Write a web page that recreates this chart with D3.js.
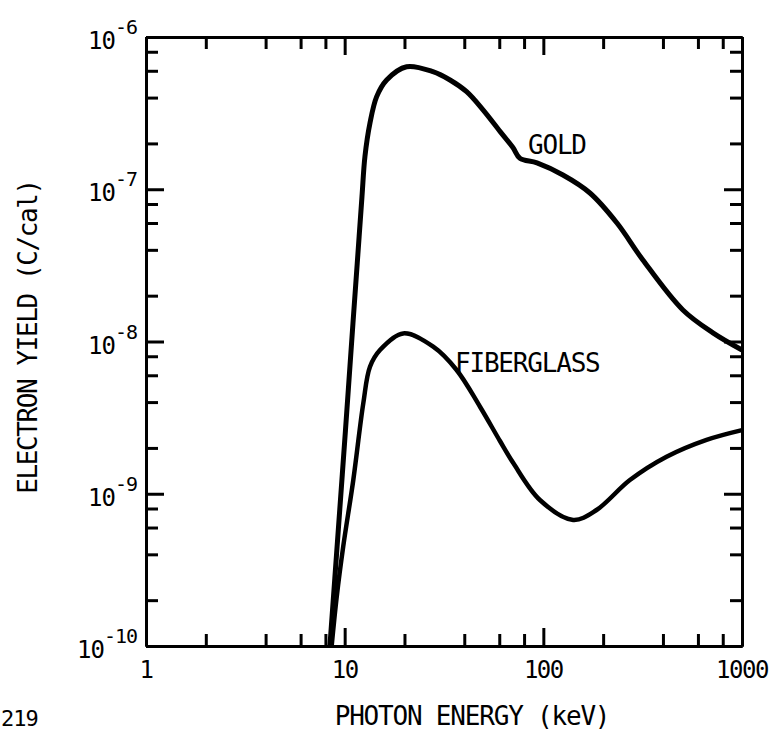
<!DOCTYPE html>
<html>
<head>
<meta charset="utf-8">
<script src="https://cdn.jsdelivr.net/npm/d3@7"></script>
<style>
  body { margin: 0; background: #fff; }
  text { font-family: "DejaVu Sans Mono", "Liberation Mono", monospace; fill: #000; }
</style>
</head>
<body>
<div id="chart"></div>
<script>
// curve readings (photon energy keV, electron yield C/cal)
const goldEnergy = [8.43, 9.29, 10.09, 11.01, 11.57, 12.22, 12.65, 13.41, 14.49, 16.27, 20.5, 27.8, 33.9, 41.1, 49.7, 60.5, 70.3, 76.2, 92.9, 125.5, 171.6, 234.8, 317, 504, 714, 1000];
const goldYield = [1e-10, 5.8e-10, 2.6e-9, 1.32e-8, 3.27e-8, 8.93e-8, 1.64e-7, 2.72e-7, 4.06e-7, 5.22e-7, 6.38e-7, 5.92e-7, 5.22e-7, 4.37e-7, 3.32e-7, 2.4e-7, 1.88e-7, 1.6e-7, 1.49e-7, 1.24e-7, 9.45e-8, 6.0e-8, 3.43e-8, 1.61e-8, 1.14e-8, 8.8e-9];

const fiberEnergy = [8.6, 9.12, 9.83, 11.05, 12.41, 13.41, 15.06, 19.7, 27.9, 36.6, 48.0, 60.5, 70.6, 96.1, 141.3, 185.3, 272.7, 417, 663, 1000];
const fiberYield = [1e-10, 2.11e-10, 4.49e-10, 1.23e-9, 3.93e-9, 6.83e-9, 8.79e-9, 1.13e-8, 9.25e-9, 6.5e-9, 3.73e-9, 2.22e-9, 1.59e-9, 9.1e-10, 6.73e-10, 7.82e-10, 1.23e-9, 1.75e-9, 2.26e-9, 2.62e-9];

const xTicks = [1, 10, 100, 1000];
const xTickLabels = ["1", "10", "100", "1000"];
const yTicks = [1e-6, 1e-7, 1e-8, 1e-9, 1e-10];
const yTickExps = ["-6", "-7", "-8", "-9", "-10"];
const minorSteps = [2, 4, 6, 8];

const width = 770, height = 730;
const margin = { top: 37, right: 28, bottom: 84, left: 146 };
const w = width - margin.left - margin.right;
const h = height - margin.top - margin.bottom;

const svg = d3.select('#chart').append('svg')
    .attr('width', width).attr('height', height);
svg.append('rect').attr('width', width).attr('height', height).attr('fill', '#fff');

const g = svg.append('g').attr('transform', `translate(${margin.left},${margin.top})`);

const x = d3.scaleLog().domain([1, 1000]).range([0, w]);
const y = d3.scaleLog().domain([1e-10, 1e-6]).range([h, 0]);

const xMinor = [1, 10, 100].flatMap(d => minorSteps.map(s => s * d));
const yMinor = [1e-10, 1e-9, 1e-8, 1e-7].flatMap(d => minorSteps.map(s => s * d));

// ticks pointing inward on all four sides
function frameAxis(axisFn, scale, values, size, tr) {
    const a = axisFn(scale).tickValues(values).tickSize(-size).tickSizeOuter(0).tickFormat('');
    const sel = g.append('g').attr('transform', tr).call(a);
    sel.select('.domain').attr('stroke', '#000').attr('stroke-width', 3);
    sel.selectAll('.tick line').attr('stroke', '#000').attr('stroke-width', 3);
    return sel;
}
frameAxis(d3.axisBottom, x, xTicks, 18, `translate(0,${h})`);
frameAxis(d3.axisBottom, x, xMinor, 12, `translate(0,${h})`);
frameAxis(d3.axisTop, x, xTicks, 18, 'translate(0,0)');
frameAxis(d3.axisTop, x, xMinor, 12, 'translate(0,0)');
frameAxis(d3.axisLeft, y, yTicks, 18, 'translate(0,0)');
frameAxis(d3.axisLeft, y, yMinor, 12, 'translate(0,0)');
frameAxis(d3.axisRight, y, yTicks, 18, `translate(${w},0)`);
frameAxis(d3.axisRight, y, yMinor, 12, `translate(${w},0)`);

// x tick labels
g.selectAll('.xlab').data(xTicks).enter().append('text')
    .attr('x', d => x(d)).attr('y', h + 32)
    .attr('text-anchor', 'middle')
    .style('font-size', '24px').style('letter-spacing', '-1.5px')
    .text((d, i) => xTickLabels[i]);

// y tick labels 10^n
yTicks.forEach((d, i) => {
    const t = g.append('text')
        .attr('x', -9).attr('y', y(d) + 12)
        .attr('text-anchor', 'end')
        .style('font-size', '24px').style('letter-spacing', '-1px');
    t.append('tspan').text('10');
    t.append('tspan').attr('dy', -15).style('font-size', '20px').text(yTickExps[i]);
});

// curves
const line = d3.line().x(d => x(d[0])).y(d => y(d[1])).curve(d3.curveCatmullRom.alpha(0.5));
const goldData = goldEnergy.map((e, i) => [e, goldYield[i]]);
const fiberData = fiberEnergy.map((e, i) => [e, fiberYield[i]]);

g.append('path').datum(goldData)
    .attr('fill', 'none').attr('stroke', '#000').attr('stroke-width', 5)
    .attr('stroke-linejoin', 'round').attr('d', line);
g.append('path').datum(fiberData)
    .attr('fill', 'none').attr('stroke', '#000').attr('stroke-width', 4.5)
    .attr('stroke-linejoin', 'round').attr('d', line);

// curve labels
g.append('text').attr('x', 528 - margin.left).attr('y', 154 - margin.top)
    .style('font-size', '26px').style('letter-spacing', '-1.2px').text('GOLD');
g.append('text').attr('x', 455 - margin.left).attr('y', 372 - margin.top)
    .style('font-size', '26px').style('letter-spacing', '-1.2px').text('FIBERGLASS');

// axis titles
svg.append('text')
    .attr('transform', 'translate(37,337) rotate(-90)')
    .attr('text-anchor', 'middle')
    .style('font-size', '26px').style('letter-spacing', '-1.4px')
    .text('ELECTRON YIELD (C/cal)');
svg.append('text')
    .attr('x', 472).attr('y', 725)
    .attr('text-anchor', 'middle')
    .style('font-size', '26px').style('letter-spacing', '-1.2px')
    .text('PHOTON ENERGY (keV)');

// figure number at bottom-left
svg.append('text').attr('x', 1).attr('y', 726)
    .style('font-size', '22px').style('letter-spacing', '-1px')
    .text('219');
</script>
</body>
</html>
